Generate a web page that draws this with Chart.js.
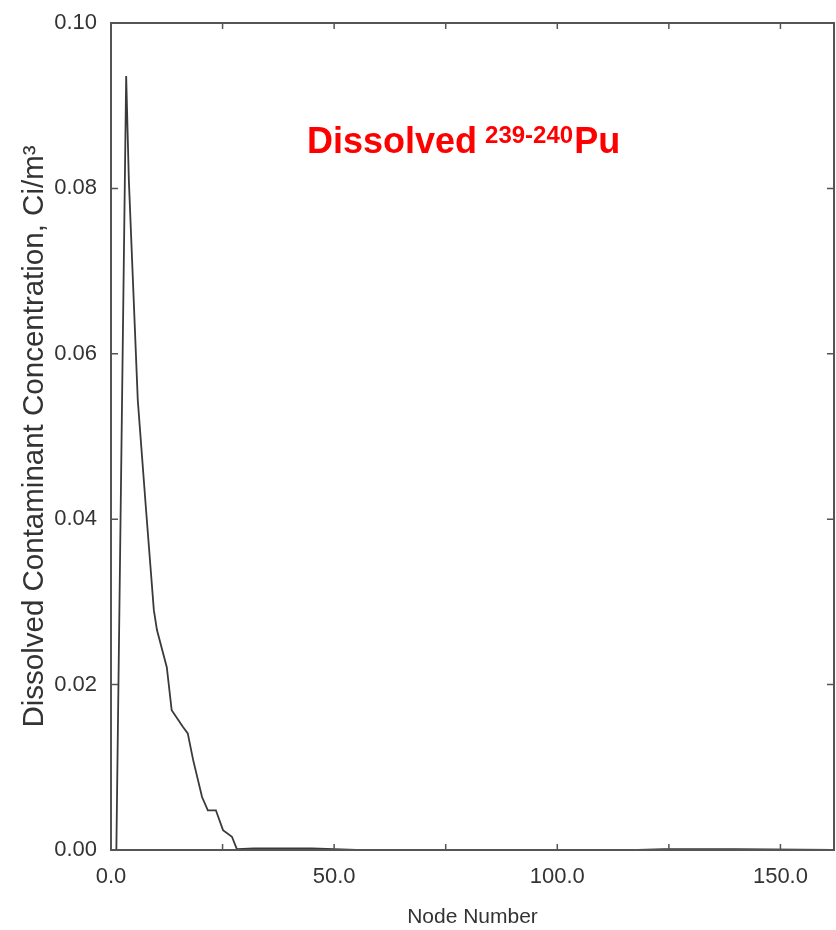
<!DOCTYPE html>
<html lang="en">
<head>
  <meta charset="UTF-8">
  <title>Dissolved 239-240Pu</title>
  <script src="https://cdn.jsdelivr.net/npm/chart.js"></script>
  <style>
    body {
      margin: 0;
      padding: 0;
      background: #fff;
    }

    .chart-wrapper {
      width: 836px;
      height: 930px;
    }
  </style>
</head>
<body>
  <div class="chart-wrapper"><canvas id="puChart"></canvas></div>

  <script>
    // Values
    const nodeNumbers = [0, 1.2, 3.4, 4.0, 6.0, 7.8, 9.6, 10.3, 12.5, 13.6, 16.1, 17.2, 18.4, 20.4, 21.7, 23.5, 25.1, 27.1, 28.2, 32, 45, 55, 118, 124, 140, 162];
    const concentrations = [0, 0, 0.0936, 0.081, 0.0544, 0.0415, 0.029, 0.0266, 0.0221, 0.0169, 0.0149, 0.0141, 0.0109, 0.0064, 0.0048, 0.0048, 0.0024, 0.0016, 0.0001, 0.0002, 0.0002, 0, 0, 0.0001, 0.0001, 0];

    const xTickValues = [0, 25, 50, 75, 100, 125, 150];
    const xLabelValues = [0, 50, 100, 150];
    const yTickValues = [0, 0.02, 0.04, 0.06, 0.08, 0.10];

    const titleMain = 'Dissolved ';
    const titleSup = '239-240';
    const titleEnd = 'Pu';

    const tickFont = "'Liberation Sans', Arial, sans-serif";

    // frame, inward tick marks and the red label
    const framePlugin = {
      id: 'frame',
      afterDraw(chart) {
        const { ctx, chartArea: a, scales } = chart;
        ctx.save();
        ctx.strokeStyle = '#555';
        ctx.lineWidth = 2;
        ctx.strokeRect(a.left, a.top, a.right - a.left, a.bottom - a.top);

        ctx.lineWidth = 1.5;
        ctx.beginPath();
        xTickValues.forEach(v => {
          const px = scales.x.getPixelForValue(v);
          ctx.moveTo(px, a.bottom);
          ctx.lineTo(px, a.bottom - 6);
          ctx.moveTo(px, a.top);
          ctx.lineTo(px, a.top + 6);
        });
        yTickValues.forEach(v => {
          const py = scales.y.getPixelForValue(v);
          ctx.moveTo(a.left, py);
          ctx.lineTo(a.left + 7, py);
          ctx.moveTo(a.right, py);
          ctx.lineTo(a.right - 7, py);
        });
        ctx.stroke();

        // title inside the plot
        let x = a.left + 196;
        const base = a.top + 130;
        ctx.fillStyle = '#ff0000';
        ctx.textBaseline = 'alphabetic';
        ctx.font = "bold 36px 'Liberation Sans', Arial, sans-serif";
        ctx.fillText(titleMain, x, base);
        x += ctx.measureText(titleMain).width - 2;
        ctx.font = "bold 24px 'Liberation Sans', Arial, sans-serif";
        ctx.fillText(titleSup, x, base - 10);
        x += ctx.measureText(titleSup).width + 1;
        ctx.font = "bold 36px 'Liberation Sans', Arial, sans-serif";
        ctx.fillText(titleEnd, x, base);
        ctx.restore();
      }
    };

    const ctx = document.getElementById('puChart').getContext('2d');
    new Chart(ctx, {
      type: 'line',
      data: {
        datasets: [{
          data: nodeNumbers.map((n, i) => ({ x: n, y: concentrations[i] })),
          borderColor: '#3a3a3a',
          borderWidth: 1.8,
          pointRadius: 0,
          tension: 0,
          fill: false
        }]
      },
      options: {
        responsive: true,
        maintainAspectRatio: false,
        animation: false,
        layout: { padding: { left: 0, top: 23, right: 2, bottom: 0 } },
        scales: {
          x: {
            type: 'linear',
            min: 0,
            max: 162,
            afterBuildTicks: s => { s.ticks = xTickValues.map(v => ({ value: v })); },
            afterFit: s => { s.height = 80; s.paddingRight = 0; },
            grid: { display: false, drawTicks: false },
            border: { display: false },
            ticks: {
              autoSkip: false,
              maxRotation: 0,
              padding: 14,
              color: '#333',
              font: { family: tickFont, size: 22 },
              callback: v => xLabelValues.includes(v) ? v.toFixed(1) : ''
            },
            title: {
              display: true,
              text: 'Node Number',
              color: '#333',
              padding: { top: 8, bottom: 0 },
              font: { family: tickFont, size: 21 }
            }
          },
          y: {
            min: 0,
            max: 0.1,
            afterBuildTicks: s => { s.ticks = yTickValues.map(v => ({ value: v })); },
            afterFit: s => { s.width = 111; s.paddingTop = 0; s.paddingBottom = 0; },
            grid: { display: false, drawTicks: false },
            border: { display: false },
            ticks: {
              padding: 14,
              color: '#333',
              font: { family: tickFont, size: 22 },
              callback: v => v.toFixed(2)
            },
            title: {
              display: true,
              text: 'Dissolved Contaminant Concentration, Ci/m\u00B3',
              color: '#333',
              padding: { top: 17, bottom: 0 },
              font: { family: tickFont, size: 29.5 }
            }
          }
        },
        plugins: {
          legend: { display: false },
          tooltip: { enabled: false }
        }
      },
      plugins: [framePlugin]
    });
  </script>
</body>
</html>
